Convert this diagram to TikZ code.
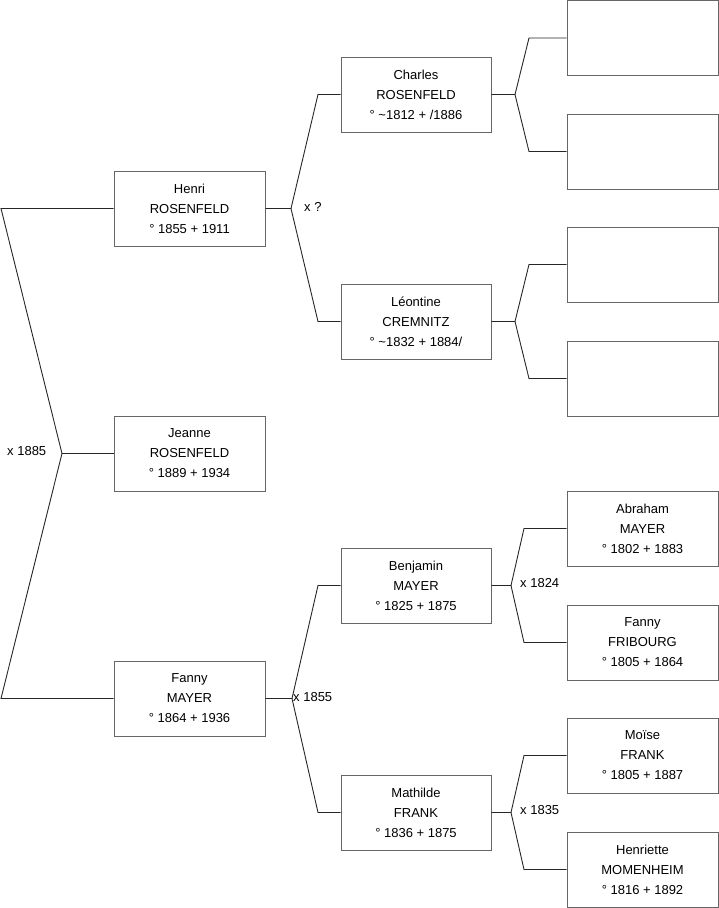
\documentclass[tikz,border=0pt]{standalone}
\usepackage{fontspec}
\setmainfont{Liberation Sans}
\begin{document}
\begin{tikzpicture}[x=1pt,y=-1pt,
  person/.style={draw=black!60,line width=0.9pt,minimum width=151pt,minimum height=75pt,inner sep=0pt,align=center,font=\fontsize{13}{20}\selectfont},
  link/.style={draw=black!85,line width=0.9pt},
  mlabel/.style={font=\fontsize{13}{15}\selectfont,inner sep=0pt}]
\useasboundingbox (0,0) rectangle (719,908);
% column 1
\node[person] (henri) at (189.5,208.5) {Henri\\ROSENFELD\\° 1855 + 1911};
\node[person] (jeanne) at (189.5,453.5) {Jeanne\\ROSENFELD\\° 1889 + 1934};
\node[person] (fanny) at (189.5,698.5) {Fanny\\MAYER\\° 1864 + 1936};
% column 2
\node[person,minimum width=150pt] (charles) at (416,94.5) {Charles\\ROSENFELD\\° \textasciitilde 1812 + /1886};
\node[person,minimum width=150pt] (leontine) at (416,321.5) {Léontine\\CREMNITZ\\° \textasciitilde 1832 + 1884/};
\node[person,minimum width=150pt] (benjamin) at (416,585.5) {Benjamin\\MAYER\\° 1825 + 1875};
\node[person,minimum width=150pt] (mathilde) at (416,812.5) {Mathilde\\FRANK\\° 1836 + 1875};
% column 3
\node[person] (e1) at (642.5,38) {};
\node[person] (e2) at (642.5,151.5) {};
\node[person] (e3) at (642.5,264.5) {};
\node[person] (e4) at (642.5,378.5) {};
\node[person] (abraham) at (642.5,528.5) {Abraham\\MAYER\\° 1802 + 1883};
\node[person] (fanny2) at (642.5,642.5) {Fanny\\FRIBOURG\\° 1805 + 1864};
\node[person] (moise) at (642.5,755.5) {Moïse\\FRANK\\° 1805 + 1887};
\node[person] (henriette) at (642.5,869.5) {Henriette\\MOMENHEIM\\° 1816 + 1892};
% junction coordinates
\coordinate (a1) at (1,208.5);
\coordinate (a2) at (1,698.5);
\coordinate (av) at (62,453.5);
\coordinate (hv) at (291,208.5);
\coordinate (ht) at (318,94.5);
\coordinate (hb) at (318,321.5);
\coordinate (fv) at (292,698.5);
\coordinate (ft) at (318,585.5);
\coordinate (fb) at (318,812.5);
\coordinate (cv) at (515,94.5);
\coordinate (ct) at (529,38);
\coordinate (cb) at (529,151.5);
\coordinate (lv) at (515,321.5);
\coordinate (lt) at (529,264.5);
\coordinate (lb) at (529,378.5);
\coordinate (bv) at (511,585.5);
\coordinate (bt) at (524,528.5);
\coordinate (bb) at (524,642.5);
\coordinate (mv) at (511,812.5);
\coordinate (mt) at (524,755.5);
\coordinate (mb) at (524,869.5);
% connectors
\draw[link] (henri.west) -- (a1) -- (av) -- (a2) -- (fanny.west);
\draw[link] (av) -- (jeanne.west);
\draw[link] (henri.east) -- (hv) -- (ht) -- (charles.west);
\draw[link] (hv) -- (hb) -- (leontine.west);
\draw[link] (fanny.east) -- (fv) -- (ft) -- (benjamin.west);
\draw[link] (fv) -- (fb) -- (mathilde.west);
\draw[link] (charles.east) -- (cv) -- (ct) -- (e1.west);
\draw[link] (cv) -- (cb) -- (e2.west);
\draw[link] (leontine.east) -- (lv) -- (lt) -- (e3.west);
\draw[link] (lv) -- (lb) -- (e4.west);
\draw[link] (benjamin.east) -- (bv) -- (bt) -- (abraham.west);
\draw[link] (bv) -- (bb) -- (fanny2.west);
\draw[link] (mathilde.east) -- (mv) -- (mt) -- (moise.west);
\draw[link] (mv) -- (mb) -- (henriette.west);
% marriage labels
\node[mlabel,anchor=west] (l1) at (7,451.5) {x 1885};
\node[mlabel,anchor=west] (l2) at (304,207) {x ?};
\node[mlabel,anchor=west] (l3) at (293,697.5) {x 1855};
\node[mlabel,anchor=west] (l4) at (520,583) {x 1824};
\node[mlabel,anchor=west] (l5) at (520,810) {x 1835};
\end{tikzpicture}
\end{document}
